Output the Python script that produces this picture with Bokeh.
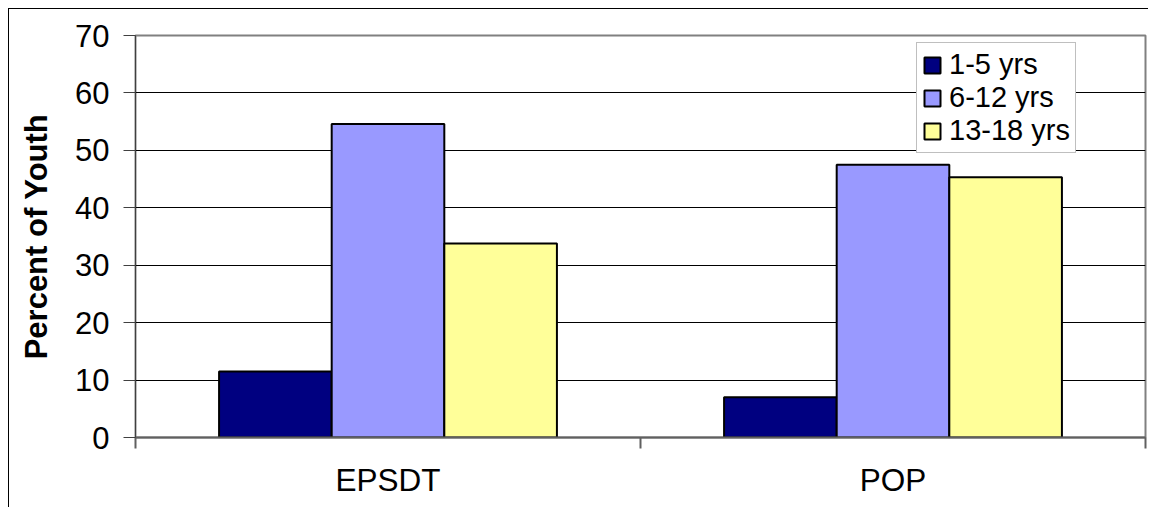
from bokeh.plotting import figure
from bokeh.models import (Range1d, FixedTicker, SingleIntervalTicker, Legend, LegendItem)
from bokeh.embed import file_html
from bokeh.resources import INLINE

# ---- data ----
categories = ["EPSDT", "POP"]
series_names = ["1-5 yrs", "6-12 yrs", "13-18 yrs"]
age_1_5 = [11.5, 7.0]
age_6_12 = [54.6, 47.5]
age_13_18 = [33.8, 45.3]
colors = ["#000080", "#9999FF", "#FFFF99"]

FONT = "Liberation Sans"

p = figure(width=1140, height=499, output_backend="svg", toolbar_location=None,
           x_range=Range1d(0, len(categories)), y_range=Range1d(0, 70),
           min_border_left=126, min_border_top=26, min_border_right=4, min_border_bottom=71)
p.styles = {"border-left": "1px solid black", "border-top": "1px solid black",
            "margin-left": "8px", "margin-top": "8px"}
p.background_fill_color = "white"
p.border_fill_color = "white"
p.outline_line_color = "#808080"
p.outline_line_width = 2

bar_w = 0.223
offsets = [-bar_w, 0.0, bar_w]
items = []
for name, vals, col, off in zip(series_names, [age_1_5, age_6_12, age_13_18], colors, offsets):
    xs = [i + 0.5 + off for i in range(len(categories))]
    r = p.vbar(x=xs, top=vals, width=bar_w, bottom=0, fill_color=col,
               line_color="black", line_width=2)
    items.append(LegendItem(label=name, renderers=[r]))

# y axis
p.yaxis.ticker = SingleIntervalTicker(interval=10)
p.yaxis.axis_label = "Percent of Youth"
p.yaxis.axis_label_text_font = FONT
p.yaxis.axis_label_text_font_style = "bold"
p.yaxis.axis_label_text_font_size = "31px"
p.yaxis.axis_label_text_color = "black"
p.yaxis.axis_label_standoff = 18
p.yaxis.major_label_text_font = FONT
p.yaxis.major_label_text_font_size = "31px"
p.yaxis.major_label_text_color = "black"
p.yaxis.major_label_standoff = 14
p.yaxis.major_tick_out = 12
p.yaxis.major_tick_in = 0
p.yaxis.minor_tick_out = 0
p.yaxis.minor_tick_in = 0
p.yaxis.axis_line_color = "#404040"
p.yaxis.major_tick_line_color = "#404040"

# x axis: labels at category centers, separator ticks at boundaries
centers = [i + 0.5 for i in range(len(categories))]
bounds = list(range(len(categories) + 1))
p.xaxis.ticker = FixedTicker(ticks=centers, minor_ticks=bounds)
p.xaxis.major_label_overrides = {c: lab for c, lab in zip(centers, categories)}
p.xaxis.major_label_text_font = FONT
p.xaxis.major_label_text_font_size = "31.5px"
p.xaxis.major_label_text_color = "black"
p.xaxis.major_label_standoff = 13
p.xaxis.major_tick_out = 0
p.xaxis.major_tick_in = 0
p.xaxis.minor_tick_out = 11
p.xaxis.minor_tick_in = 0
p.xaxis.minor_tick_line_color = "#606060"
p.xaxis.minor_tick_line_width = 2
p.xaxis.axis_line_color = "#606060"
p.xaxis.axis_line_width = 2

p.xgrid.visible = False
p.ygrid.ticker = SingleIntervalTicker(interval=10)
p.ygrid.grid_line_color = "black"
p.ygrid.grid_line_width = 1

legend = Legend(items=items, location=(781, 284), margin=0, padding=5, spacing=0,
                label_standoff=7, glyph_width=20, glyph_height=20,
                label_text_font=FONT, label_text_font_size="29px",
                label_text_color="black",
                border_line_color="#808080", border_line_width=1,
                background_fill_color="white", background_fill_alpha=1.0)
p.add_layout(legend, "center")

open("out.html", "w").write(file_html(p, INLINE))
